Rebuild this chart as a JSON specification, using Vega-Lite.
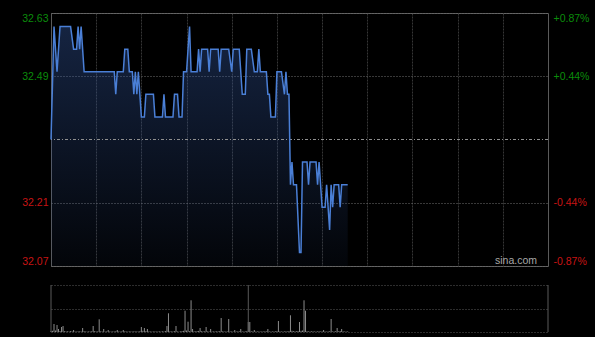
{
  "$schema": "https://vega.github.io/schema/vega-lite/v6.json",
  "autosize": {"type": "pad"},
  "padding": {"left": 21, "top": 12, "right": 5, "bottom": 5},
  "background": "#000000",
  "bounds": "flush",
  "spacing": 19,
  "config": {"font": "Liberation Sans"},
  "datasets": {
    "price": [
      {"t":0,"p":32.35},{"t":2,"p":32.60},{"t":4,"p":32.50},{"t":6,"p":32.60},{"t":13,"p":32.60},{"t":15,"p":32.55},{"t":17,"p":32.55},{"t":18,"p":32.60},{"t":19,"p":32.55},{"t":20,"p":32.60},{"t":22,"p":32.50},{"t":42,"p":32.50},{"t":43,"p":32.45},{"t":44,"p":32.50},{"t":48,"p":32.50},{"t":49,"p":32.55},{"t":51,"p":32.55},{"t":52,"p":32.50},{"t":54,"p":32.50},{"t":55,"p":32.45},{"t":56,"p":32.50},{"t":57,"p":32.45},{"t":58,"p":32.50},{"t":60,"p":32.40},{"t":62,"p":32.40},{"t":63,"p":32.45},{"t":68,"p":32.45},{"t":69,"p":32.40},{"t":74,"p":32.40},{"t":75,"p":32.45},{"t":76,"p":32.40},{"t":81,"p":32.40},{"t":82,"p":32.45},{"t":84,"p":32.45},{"t":85,"p":32.40},{"t":87,"p":32.40},{"t":88,"p":32.50},{"t":90,"p":32.50},{"t":92,"p":32.60},{"t":93,"p":32.50},{"t":97,"p":32.50},{"t":98,"p":32.55},{"t":99,"p":32.50},{"t":100,"p":32.55},{"t":104,"p":32.55},{"t":105,"p":32.50},{"t":106,"p":32.55},{"t":111,"p":32.55},{"t":112,"p":32.50},{"t":113,"p":32.55},{"t":118,"p":32.55},{"t":120,"p":32.50},{"t":121,"p":32.55},{"t":125,"p":32.55},{"t":127,"p":32.45},{"t":129,"p":32.45},{"t":130,"p":32.55},{"t":133,"p":32.55},{"t":135,"p":32.50},{"t":137,"p":32.50},{"t":138,"p":32.55},{"t":139,"p":32.50},{"t":143,"p":32.50},{"t":144,"p":32.45},{"t":145,"p":32.45},{"t":146,"p":32.40},{"t":149,"p":32.40},{"t":150,"p":32.50},{"t":153,"p":32.50},{"t":155,"p":32.45},{"t":156,"p":32.50},{"t":157,"p":32.45},{"t":158,"p":32.45},{"t":159,"p":32.25},{"t":160,"p":32.30},{"t":161,"p":32.25},{"t":163,"p":32.25},{"t":165,"p":32.10},{"t":166,"p":32.10},{"t":167,"p":32.30},{"t":170,"p":32.30},{"t":171,"p":32.25},{"t":172,"p":32.30},{"t":176,"p":32.30},{"t":177,"p":32.25},{"t":178,"p":32.30},{"t":180,"p":32.20},{"t":182,"p":32.20},{"t":183,"p":32.25},{"t":185,"p":32.15},{"t":186,"p":32.25},{"t":187,"p":32.20},{"t":188,"p":32.25},{"t":191,"p":32.25},{"t":192,"p":32.20},{"t":193,"p":32.25},{"t":197,"p":32.25}
    ],
    "vol": [
      {"t":0,"v":900},{"t":1,"v":1200},{"t":2,"v":8000},{"t":3,"v":1500},{"t":4,"v":7000},{"t":5,"v":3000},{"t":6,"v":1000},{"t":7,"v":5000},{"t":8,"v":6000},{"t":9,"v":800},{"t":10,"v":600},{"t":11,"v":700},{"t":12,"v":500},{"t":13,"v":900},{"t":14,"v":600},{"t":15,"v":2000},{"t":16,"v":500},{"t":17,"v":400},{"t":18,"v":700},{"t":19,"v":600},{"t":20,"v":500},{"t":21,"v":4000},{"t":22,"v":800},{"t":23,"v":500},{"t":24,"v":400},{"t":25,"v":600},{"t":26,"v":500},{"t":27,"v":700},{"t":28,"v":6000},{"t":29,"v":900},{"t":30,"v":500},{"t":31,"v":600},{"t":32,"v":12700},{"t":33,"v":700},{"t":34,"v":500},{"t":35,"v":3000},{"t":36,"v":400},{"t":37,"v":600},{"t":38,"v":2000},{"t":39,"v":500},{"t":40,"v":400},{"t":41,"v":600},{"t":42,"v":500},{"t":43,"v":700},{"t":44,"v":2000},{"t":45,"v":500},{"t":46,"v":400},{"t":47,"v":600},{"t":48,"v":2000},{"t":49,"v":700},{"t":50,"v":500},{"t":51,"v":400},{"t":52,"v":600},{"t":53,"v":500},{"t":54,"v":400},{"t":55,"v":700},{"t":56,"v":500},{"t":57,"v":600},{"t":58,"v":400},{"t":59,"v":800},{"t":60,"v":5000},{"t":61,"v":1200},{"t":62,"v":4000},{"t":63,"v":900},{"t":64,"v":3000},{"t":65,"v":600},{"t":66,"v":500},{"t":67,"v":400},{"t":68,"v":500},{"t":69,"v":600},{"t":70,"v":400},{"t":71,"v":500},{"t":72,"v":600},{"t":73,"v":400},{"t":74,"v":700},{"t":75,"v":500},{"t":76,"v":900},{"t":77,"v":6000},{"t":78,"v":18700},{"t":79,"v":700},{"t":80,"v":500},{"t":81,"v":600},{"t":82,"v":800},{"t":83,"v":6000},{"t":84,"v":500},{"t":85,"v":400},{"t":86,"v":600},{"t":87,"v":900},{"t":88,"v":1200},{"t":89,"v":21300},{"t":90,"v":1500},{"t":91,"v":10300},{"t":92,"v":800},{"t":93,"v":31700},{"t":94,"v":3000},{"t":95,"v":700},{"t":96,"v":600},{"t":97,"v":900},{"t":98,"v":1100},{"t":99,"v":4000},{"t":100,"v":800},{"t":101,"v":600},{"t":102,"v":700},{"t":103,"v":5000},{"t":104,"v":600},{"t":105,"v":500},{"t":106,"v":3000},{"t":107,"v":400},{"t":108,"v":600},{"t":109,"v":500},{"t":110,"v":700},{"t":111,"v":600},{"t":112,"v":800},{"t":113,"v":14000},{"t":114,"v":700},{"t":115,"v":500},{"t":116,"v":400},{"t":117,"v":600},{"t":118,"v":13000},{"t":119,"v":500},{"t":120,"v":600},{"t":121,"v":400},{"t":122,"v":2000},{"t":123,"v":500},{"t":124,"v":600},{"t":125,"v":700},{"t":126,"v":3000},{"t":127,"v":500},{"t":128,"v":400},{"t":129,"v":600},{"t":130,"v":800},{"t":131,"v":10000},{"t":132,"v":10000},{"t":133,"v":700},{"t":134,"v":500},{"t":135,"v":2000},{"t":136,"v":400},{"t":137,"v":600},{"t":138,"v":500},{"t":139,"v":400},{"t":140,"v":600},{"t":141,"v":500},{"t":142,"v":700},{"t":143,"v":600},{"t":144,"v":3000},{"t":145,"v":500},{"t":146,"v":400},{"t":147,"v":600},{"t":148,"v":500},{"t":149,"v":700},{"t":150,"v":800},{"t":151,"v":11000},{"t":152,"v":600},{"t":153,"v":500},{"t":154,"v":400},{"t":155,"v":600},{"t":156,"v":700},{"t":157,"v":500},{"t":158,"v":900},{"t":159,"v":16700},{"t":160,"v":1200},{"t":161,"v":800},{"t":162,"v":600},{"t":163,"v":700},{"t":164,"v":900},{"t":165,"v":10000},{"t":166,"v":1200},{"t":167,"v":1500},{"t":168,"v":31700},{"t":169,"v":21300},{"t":170,"v":800},{"t":171,"v":600},{"t":172,"v":500},{"t":173,"v":700},{"t":174,"v":600},{"t":175,"v":500},{"t":176,"v":400},{"t":177,"v":600},{"t":178,"v":700},{"t":179,"v":500},{"t":180,"v":600},{"t":181,"v":2000},{"t":182,"v":500},{"t":183,"v":400},{"t":184,"v":600},{"t":185,"v":700},{"t":186,"v":13000},{"t":187,"v":600},{"t":188,"v":500},{"t":189,"v":800},{"t":190,"v":4000},{"t":191,"v":700},{"t":192,"v":1000},{"t":193,"v":3000},{"t":194,"v":600},{"t":195,"v":500},{"t":196,"v":400},{"t":197,"v":600}
    ]
  },
  "vconcat": [
    {
      "width": 497,
      "height": 253,
      "view": {"stroke": "#5a5a5a", "strokeWidth": 1},
      "resolve": {"axis": {"y": "independent"}},
      "layer": [
        {
          "data": {"name": "price"},
          "mark": {"type": "area", "color": {"gradient": "linear", "x1": 0, "y1": 0, "x2": 0, "y2": 1, "stops": [{"offset": 0, "color": "rgba(50,85,155,0.42)"}, {"offset": 1, "color": "rgba(50,85,155,0.06)"}]}},
          "encoding": {
            "x": {"field": "t", "type": "quantitative", "scale": {"domain": [0, 330], "nice": false, "zero": false},
                  "axis": {"values": [30,60,90,120,150,180,210,240,270,300], "grid": true, "gridColor": "#363636", "gridDash": [2,1], "labels": false, "ticks": false, "domain": false, "title": null}},
            "y": {"field": "p", "type": "quantitative", "scale": {"domain": [32.07, 32.63], "nice": false, "zero": false},
                  "axis": {"orient": "left", "values": [32.07, 32.21, 32.49, 32.63], "format": ".2f", "labelFlush": true, "ticks": false, "domain": false, "title": null,
                           "grid": true, "gridColor": "#707070", "gridDash": [1,2], "labelPadding": 3, "labelFontSize": 10.5, "labelFont": "Liberation Sans",
                           "labelColor": {"condition": {"test": "datum.value > 32.35", "value": "#0b8c0b"}, "value": "#c81414"}}},
            "y2": {"datum": 32.07}
          }
        },
        {
          "data": {"values": [{"pc": 32.35}]},
          "mark": {"type": "rule", "color": "#909090", "strokeWidth": 1, "strokeDash": [3,2,1,2]},
          "encoding": {"y": {"field": "pc", "type": "quantitative", "scale": {"domain": [32.07, 32.63], "nice": false, "zero": false}, "axis": null}}
        },
        {
          "data": {"name": "price"},
          "mark": {"type": "line", "color": "#4a7fd6", "strokeWidth": 1.5},
          "encoding": {
            "x": {"field": "t", "type": "quantitative"},
            "y": {"field": "p", "type": "quantitative", "scale": {"domain": [32.07, 32.63], "nice": false, "zero": false}, "axis": null}
          }
        },
        {
          "data": {"values": [{"s": "sina.com", "t": 330, "p": 32.07}]},
          "mark": {"type": "text", "align": "right", "baseline": "bottom", "dx": -11, "dy": 0, "color": "#a8a8a8", "fontSize": 10.5, "font": "Liberation Sans"},
          "encoding": {
            "x": {"field": "t", "type": "quantitative"},
            "y": {"field": "p", "type": "quantitative", "scale": {"domain": [32.07, 32.63], "nice": false, "zero": false},
                  "axis": {"orient": "right", "values": [32.07, 32.21, 32.49, 32.63], "labelFlush": true, "ticks": false, "domain": false, "grid": false, "title": null,
                           "labelExpr": "datum.value > 32.6 ? '+0.87%' : datum.value > 32.4 ? '+0.44%' : datum.value > 32.1 ? '-0.44%' : '-0.87%'",
                           "labelPadding": 5, "labelFontSize": 10.5, "labelFont": "Liberation Sans",
                           "labelColor": {"condition": {"test": "datum.value > 32.35", "value": "#0b8c0b"}, "value": "#c81414"}}},
            "text": {"field": "s"}
          }
        }
      ]
    },
    {
      "width": 497,
      "height": 47,
      "view": {"stroke": null},
      "layer": [
        {
          "data": {"name": "vol"},
          "mark": {"type": "rule", "color": "#8c8c8c", "strokeWidth": 1},
          "encoding": {
            "x": {"field": "t", "type": "quantitative", "scale": {"domain": [0, 330], "nice": false, "zero": false}, "axis": null},
            "y": {"field": "v", "type": "quantitative", "scale": {"domain": [0, 47000], "nice": false},
                  "axis": {"values": [0, 23500, 47000], "grid": true, "gridColor": "#5a5a5a", "gridDash": [1,2], "labels": false, "ticks": false, "domain": false, "title": null}},
            "y2": {"datum": 0}
          }
        },
        {
          "data": {"values": [{"t": 0}, {"t": 131}, {"t": 330}]},
          "mark": {"type": "rule", "color": "#5a5a5a", "strokeWidth": 1},
          "encoding": {"x": {"field": "t", "type": "quantitative"}}
        }
      ]
    }
  ]
}
